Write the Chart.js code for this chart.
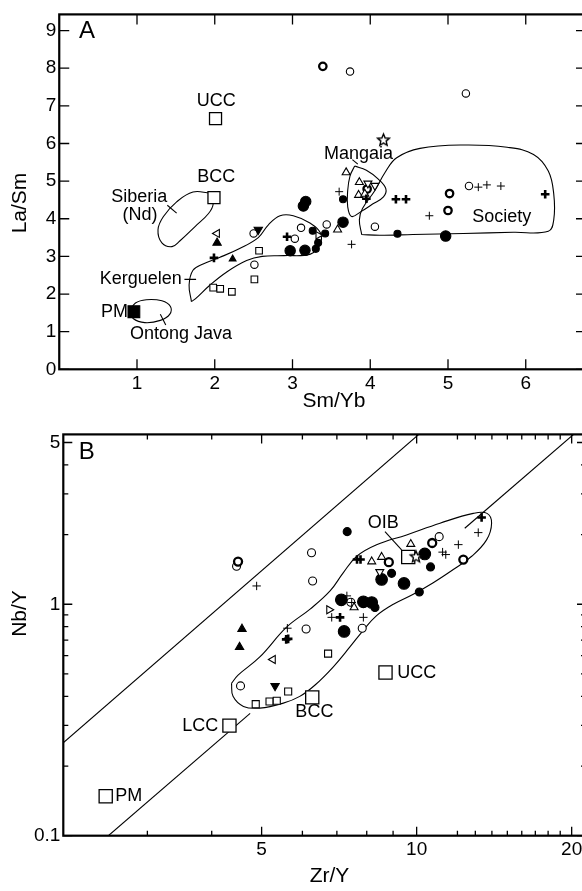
<!DOCTYPE html>
<html>
<head>
<meta charset="utf-8">
<script src="https://cdn.jsdelivr.net/npm/chart.js@4.4.0/dist/chart.umd.min.js"></script>
<style>
html, body { margin: 0; padding: 0; background: #fff; overflow: hidden; width: 582px; height: 891px; }
body { position: relative; }
.wrap { position: absolute; left: 0; width: 582px; overflow: hidden; }
#wrapA { top: 0; height: 420px; }
#wrapB { top: 420px; height: 471px; }
canvas { display: block; }
</style>
</head>
<body>
<div class="wrap" id="wrapA"><canvas id="chartA" width="620" height="420"></canvas></div>
<div class="wrap" id="wrapB"><canvas id="chartB" width="620" height="471"></canvas></div>
<script>
const FONT = "'Liberation Sans', Arial, Helvetica, sans-serif";

// ---------- Panel A: La/Sm vs Sm/Yb ----------
const xTicksA = [1, 2, 3, 4, 5, 6];
const yTicksA = [0, 1, 2, 3, 4, 5, 6, 7, 8, 9];

const openCircleA = [[3.74, 7.91], [5.23, 7.33], [3.44, 3.85], [3.11, 3.76], [3.03, 3.47], [2.50, 3.61], [2.51, 2.78], [4.06, 3.79], [5.27, 4.87]];
const boldCircleA = [[3.39, 8.05], [3.96, 4.79], [5.02, 4.67], [5.00, 4.22]];
const smallDotA = [[3.65, 4.52], [4.35, 3.60], [3.42, 3.61], [3.26, 3.68], [3.33, 3.36], [3.30, 3.20]];
const bigDotA = [[3.14, 4.34], [3.17, 4.46], [3.65, 3.91], [2.97, 3.15], [3.16, 3.16], [4.97, 3.54]];
const smallSquareA = [[2.57, 3.15], [2.51, 2.39], [1.98, 2.17], [2.07, 2.14], [2.22, 2.06]];
const refSquareA = [[2.01, 6.66], [1.99, 4.56]];          // UCC, BCC
const pmSquareA = [[0.96, 1.53]];                          // PM
const triUpA = [[3.69, 5.23], [3.86, 4.97], [3.85, 4.63], [3.93, 4.66], [3.58, 3.71]];
const triDownA = [[3.97, 4.94], [4.06, 4.88]];
const triLeftA = [[2.03, 3.61]];
const triRightA = [[3.33, 3.56]];
const fillTriUpA = [[2.03, 3.36], [2.23, 2.93]];
const fillTriDownA = [[2.56, 3.71]];
const plusA = [[3.60, 4.72], [5.39, 4.84], [5.50, 4.90], [5.68, 4.87], [4.76, 4.08], [3.76, 3.32]];
const boldPlusA = [[3.95, 4.53], [4.33, 4.52], [4.46, 4.52], [6.25, 4.65], [2.93, 3.52], [1.99, 2.96]];
const starA = [[4.17, 6.10]];

// field outlines (Sm/Yb, La/Sm)
const siberiaField = [[1.94, 4.68], [1.72, 4.71], [1.51, 4.45], [1.34, 4.06], [1.27, 3.71], [1.32, 3.36], [1.45, 3.26], [1.55, 3.41], [1.75, 3.80], [1.92, 4.14], [1.98, 4.40], [1.94, 4.68]];
const kerguelenField = [[1.70, 1.80], [1.67, 2.24], [1.72, 2.63], [1.85, 2.80], [2.06, 2.97], [2.32, 3.21], [2.56, 3.50], [2.69, 3.84], [2.84, 4.08], [3.01, 4.08], [3.23, 3.88], [3.36, 3.62], [3.35, 3.30], [3.23, 3.06], [2.89, 3.02], [2.61, 3.00], [2.41, 2.89], [2.15, 2.58], [1.94, 2.24], [1.75, 1.87], [1.70, 1.80]];
const ontongField = [[0.91, 1.54], [0.98, 1.76], [1.12, 1.85], [1.32, 1.82], [1.43, 1.67], [1.42, 1.46], [1.30, 1.30], [1.10, 1.24], [0.95, 1.35], [0.91, 1.54]];
const mangaiaField = [[3.80, 5.40], [3.95, 5.29], [4.10, 5.06], [4.20, 4.80], [4.17, 4.58], [4.03, 4.39], [3.88, 4.19], [3.76, 4.06], [3.71, 4.32], [3.71, 4.75], [3.74, 5.14], [3.80, 5.40]];
const societyField = [[3.89, 3.58], [3.86, 3.97], [3.90, 4.27], [4.06, 4.75], [4.19, 5.23], [4.34, 5.62], [4.64, 5.87], [5.20, 5.96], [5.76, 5.90], [6.10, 5.71], [6.29, 5.27], [6.36, 4.66], [6.36, 3.97], [6.29, 3.67], [5.84, 3.64], [5.20, 3.61], [4.55, 3.58], [4.12, 3.56], [3.89, 3.58]];
const leadersA = [
  [[3.77, 5.57], [3.84, 5.45]],
  [[1.39, 4.36], [1.51, 4.15]],
  [[1.61, 2.39], [1.76, 2.39]],
  [[1.30, 1.46], [1.37, 1.18]]
];
const notesA = [
  { text: 'UCC', x: 2.02, y: 7.14 },
  { text: 'BCC', x: 2.02, y: 5.11 },
  { text: 'Siberia', x: 1.03, y: 4.58 },
  { text: '(Nd)', x: 1.04, y: 4.10 },
  { text: 'Kerguelen', x: 1.575, y: 2.39, align: 'right' },
  { text: 'PM', x: 0.885, y: 1.52, align: 'right' },
  { text: 'Ontong Java', x: 1.566, y: 0.94 },
  { text: 'Mangaia', x: 3.85, y: 5.73 },
  { text: 'Society', x: 5.69, y: 4.04 }
];

// ---------- Panel B: Nb/Y vs Zr/Y (log-log) ----------
const xTicksB = [5, 10, 20];
const xMinorB = [3, 4, 6, 7, 8, 9, 12, 13, 14, 15, 16, 17, 18, 19];
const yTicksB = [0.1, 1, 5];
const yMinorB = [0.2, 0.3, 0.4, 0.5, 0.6, 0.7, 0.8, 0.9, 2, 3, 4];

const openCircleB = [[11.06, 1.96], [6.25, 1.67], [6.28, 1.26], [4.47, 1.46], [6.10, 0.782], [7.84, 0.788], [4.55, 0.444], [7.45, 1.02]];
const boldCircleB = [[10.72, 1.84], [12.32, 1.56], [8.83, 1.52], [4.50, 1.53]];
const smallDotB = [[7.33, 2.06], [10.64, 1.45], [10.12, 1.13], [8.94, 1.36], [8.30, 0.969]];
const bigDotB = [[10.37, 1.65], [9.45, 1.23], [8.55, 1.28], [7.23, 0.763], [7.14, 1.045], [7.88, 1.025], [8.18, 1.018]];
const smallSquareB = [[6.73, 0.612], [5.63, 0.420], [4.87, 0.370], [5.18, 0.380], [5.35, 0.383]];
const refSquareB = [[9.63, 1.60], [6.27, 0.396], [8.70, 0.507], [4.33, 0.299], [2.49, 0.148]];   // OIB, BCC, UCC, LCC, PM
const triUpB = [[9.74, 1.82], [8.55, 1.60], [8.18, 1.53], [7.56, 0.969]];
const triDownB = [[8.48, 1.38]];
const triLeftB = [[5.26, 0.577]];
const triRightB = [[6.76, 0.947]];
const fillTriUpB = [[4.58, 0.782], [4.53, 0.653]];
const fillTriDownB = [[5.31, 0.444]];
const plusB = [[11.23, 1.68], [11.39, 1.64], [12.05, 1.81], [13.17, 2.04], [4.89, 1.20], [5.61, 0.788], [7.88, 0.878], [6.84, 0.878], [7.32, 1.087], [7.48, 1.018]];
const boldPlusB = [[13.37, 2.37], [7.66, 1.56], [7.78, 1.56], [5.58, 0.705], [5.63, 0.709], [7.10, 0.878]];
const starB = [[9.97, 1.61]];

const oibField = [[4.37, 0.455], [4.50, 0.494], [4.96, 0.592], [5.59, 0.796], [6.21, 0.953], [6.79, 1.142], [7.20, 1.367], [7.65, 1.612], [8.36, 1.807], [9.56, 1.994], [11.1, 2.24], [12.88, 2.47], [13.7, 2.47], [13.98, 2.24], [13.67, 1.898], [12.79, 1.612], [11.78, 1.413], [10.77, 1.239], [9.85, 1.105], [9.01, 1.0], [8.36, 0.893], [7.87, 0.770], [7.42, 0.654], [6.89, 0.537], [6.35, 0.448], [5.93, 0.400], [5.51, 0.374], [4.96, 0.356], [4.61, 0.362], [4.40, 0.400], [4.37, 0.455]];
const upperLineB = [[2.0, 0.238], [10.4, 5.74]];
const lowerLineB1 = [[2.52, 0.1], [4.75, 0.338]];
const lowerLineB2 = [[12.4, 2.13], [22.7, 6.8]];
const leaderOIB = [[8.68, 2.06], [9.35, 1.72]];
const notesB = [
  { text: 'OIB', x: 8.61, y: 2.24 },
  { text: 'UCC', x: 9.17, y: 0.507, align: 'left' },
  { text: 'BCC', x: 6.33, y: 0.342 },
  { text: 'LCC', x: 4.12, y: 0.299, align: 'right' },
  { text: 'PM', x: 2.60, y: 0.148, align: 'left' }
];

// ---------- helpers ----------
const pts = arr => arr.map(p => ({ x: p[0], y: p[1] }));

function starImage(r) {
  const c = document.createElement('canvas');
  c.width = c.height = Math.ceil(r * 2 + 4);
  const g = c.getContext('2d');
  const cx = c.width / 2, cy = c.height / 2 + 0.5;
  g.beginPath();
  for (let i = 0; i < 10; i++) {
    const rr = i % 2 === 0 ? r : r * 0.45;
    const a = -Math.PI / 2 + i * Math.PI / 5;
    g.lineTo(cx + rr * Math.cos(a), cy + rr * Math.sin(a));
  }
  g.closePath();
  g.fillStyle = '#fff';
  g.fill();
  g.strokeStyle = '#000';
  g.lineWidth = 1.4;
  g.stroke();
  return c;
}

function mark(data, style, r, opt) {
  return Object.assign({
    type: 'scatter', data: pts(data), pointStyle: style, pointRadius: r,
    pointBorderColor: '#000', pointBackgroundColor: '#fff', pointBorderWidth: 1.1,
    borderColor: '#000', backgroundColor: '#fff', order: 1
  }, opt || {});
}
function curve(data, tension) {
  return {
    type: 'line', data: pts(data), showLine: true, borderColor: '#000', borderWidth: 1.1,
    pointRadius: 0, tension: tension, fill: false, order: 5
  };
}

const framePlugin = {
  id: 'frame',
  afterDatasetsDraw(chart, args, o) {
    const { ctx, chartArea: a } = chart;
    const x = chart.scales.x, y = chart.scales.y;
    ctx.save();
    ctx.strokeStyle = '#000';
    ctx.lineWidth = 1.3;
    ctx.beginPath();
    const xt = o.xMajor.map(v => [v, o.majorLen]).concat(o.xMinor.map(v => [v, o.minorLen]));
    const yt = o.yMajor.map(v => [v, o.majorLen]).concat(o.yMinor.map(v => [v, o.minorLen]));
    xt.forEach(([v, len]) => {
      const px = x.getPixelForValue(v);
      ctx.moveTo(px, a.bottom); ctx.lineTo(px, a.bottom - len);
      ctx.moveTo(px, a.top); ctx.lineTo(px, a.top + len);
    });
    // right-hand inward ticks sit just inside the cropped right border
    yt.forEach(([v, len]) => {
      const py = y.getPixelForValue(v);
      ctx.moveTo(a.left, py); ctx.lineTo(a.left + len, py);
      ctx.moveTo(o.rightEdge, py); ctx.lineTo(o.rightEdge - len, py);
    });
    ctx.stroke();
    ctx.lineWidth = 2.2;
    ctx.strokeRect(a.left, a.top, a.right - a.left, a.bottom - a.top);

    ctx.fillStyle = '#000';
    ctx.textBaseline = 'middle';
    ctx.font = '18px ' + FONT;
    o.notes.forEach(n => {
      ctx.textAlign = n.align || 'center';
      ctx.fillText(n.text, x.getPixelForValue(n.x), y.getPixelForValue(n.y));
    });
    o.titles.forEach(t => {
      ctx.save();
      ctx.font = (t.size || 21) + 'px ' + FONT;
      ctx.textAlign = 'center';
      ctx.translate(t.x, t.y);
      if (t.rot) ctx.rotate(t.rot * Math.PI / 180);
      ctx.fillText(t.text, 0, 0);
      ctx.restore();
    });
    ctx.restore();
  }
};

function axis(type, min, max, ticks, fit) {
  return {
    type: type, min: min, max: max,
    grid: { display: false, drawTicks: false },
    border: { display: false },
    ticks: { color: '#000', font: { family: FONT, size: 19 }, padding: 3, autoSkip: false, maxRotation: 0, callback: v => String(v) },
    afterBuildTicks: s => { s.ticks = ticks.map(v => ({ value: v })); },
    afterFit: fit
  };
}

function baseOptions(xs, ys, pad, frame) {
  return {
    responsive: false, animation: false, events: [],
    layout: { padding: pad },
    plugins: { legend: { display: false }, tooltip: { enabled: false }, frame: frame },
    scales: { x: xs, y: ys }
  };
}

// ---------- Chart A ----------
new Chart(document.getElementById('chartA'), {
  type: 'scatter',
  data: {
    datasets: [
      mark(starA, starImage(6.2), 6),
      mark(boldPlusA, 'cross', 4.3, { pointBorderWidth: 2.6 }),
      mark(plusA, 'cross', 4, { pointBorderWidth: 1 }),
      mark(fillTriDownA, 'triangle', 4.8, { pointBackgroundColor: '#000', pointRotation: 180 }),
      mark(fillTriUpA, 'triangle', [4.8, 3.9], { pointBackgroundColor: '#000' }),
      mark(triRightA, 'triangle', 4.3, { pointRotation: 90 }),
      mark(triLeftA, 'triangle', 4.6, { pointRotation: 270 }),
      mark(triDownA, 'triangle', 4.6, { pointRotation: 180 }),
      mark(triUpA, 'triangle', 4.6),
      mark(pmSquareA, 'rect', 8.3, { pointBackgroundColor: '#000' }),
      mark(refSquareA, 'rect', 8.5, { pointBorderWidth: 1.3 }),
      mark(smallSquareA, 'rect', 4.7),
      mark(bigDotA, 'circle', 5.2, { pointBackgroundColor: '#000' }),
      mark(smallDotA, 'circle', 3.5, { pointBackgroundColor: '#000' }),
      mark(boldCircleA, 'circle', 3.7, { pointBorderWidth: 2.3 }),
      mark(openCircleA, 'circle', 3.7),
      curve(siberiaField, 0.4),
      curve(kerguelenField, 0.4),
      curve(ontongField, 0.4),
      curve(mangaiaField, 0.4),
      curve(societyField, 0.4)
    ].concat(leadersA.map(l => curve(l, 0)))
  },
  options: baseOptions(
    axis('linear', 0, 6.955, xTicksA, s => { s.height = 50.7; }),
    axis('linear', 0, 9.43, yTicksA, s => { s.width = 59.25; }),
    { left: 0, top: 6.7, right: 20, bottom: 0 },
    {
      xMajor: xTicksA, xMinor: [], yMajor: yTicksA, yMinor: [], majorLen: 10, minorLen: 5, rightEdge: 586,
      notes: notesA,
      titles: [
        { text: 'Sm/Yb', x: 334, y: 401 },
        { text: 'La/Sm', x: 20.5, y: 203, rot: -90 },
        { text: 'A', x: 87, y: 31, size: 24 }
      ]
    }
  ),
  plugins: [framePlugin]
});

// ---------- Chart B ----------
new Chart(document.getElementById('chartB'), {
  type: 'scatter',
  data: {
    datasets: [
      mark(starB, starImage(6), 6),
      mark(boldPlusB, 'cross', 4.3, { pointBorderWidth: 2.6 }),
      mark(plusB, 'cross', 4.2, { pointBorderWidth: 1 }),
      mark(fillTriDownB, 'triangle', 4.8, { pointBackgroundColor: '#000', pointRotation: 180 }),
      mark(fillTriUpB, 'triangle', 4.8, { pointBackgroundColor: '#000' }),
      mark(triRightB, 'triangle', 4.6, { pointRotation: 90 }),
      mark(triLeftB, 'triangle', 4.6, { pointRotation: 270 }),
      mark(triDownB, 'triangle', 4.6, { pointRotation: 180 }),
      mark(triUpB, 'triangle', 4.6),
      mark(refSquareB, 'rect', 9.3, { pointBorderWidth: 1.3 }),
      mark(smallSquareB, 'rect', 5),
      mark(bigDotB, 'circle', 5.8, { pointBackgroundColor: '#000' }),
      mark(smallDotB, 'circle', 4, { pointBackgroundColor: '#000' }),
      mark(boldCircleB, 'circle', 4, { pointBorderWidth: 2.3 }),
      mark(openCircleB, 'circle', 4),
      curve(oibField, 0.4),
      curve(upperLineB, 0),
      curve(lowerLineB1, 0),
      curve(lowerLineB2, 0),
      curve(leaderOIB, 0)
    ]
  },
  options: baseOptions(
    axis('logarithmic', 2.06, 22.7, xTicksB, s => { s.height = 55.3; }),
    axis('logarithmic', 0.1, 5.42, yTicksB, s => { s.width = 63.3; }),
    { left: 0, top: 10, right: 20, bottom: 0 },
    {
      xMajor: xTicksB, xMinor: xMinorB, yMajor: yTicksB, yMinor: yMinorB, majorLen: 9, minorLen: 5, rightEdge: 586,
      notes: notesB,
      titles: [
        { text: 'Zr/Y', x: 329.5, y: 456.7 },
        { text: 'Nb/Y', x: 20, y: 193.5, rot: -90 },
        { text: 'B', x: 86.7, y: 32.3, size: 24 }
      ]
    }
  ),
  plugins: [framePlugin]
});
</script>
</body>
</html>
